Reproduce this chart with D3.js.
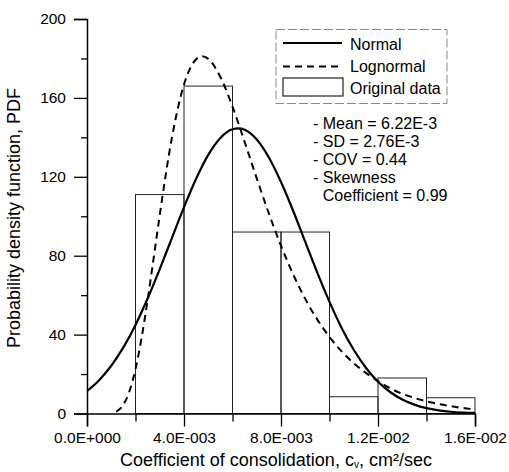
<!DOCTYPE html>
<html>
<head>
<meta charset="utf-8">
<script src="https://cdn.jsdelivr.net/npm/d3@7"></script>
<style>
  body { margin: 0; background: #fff; }
  svg text { font-family: Arial, "Liberation Sans", sans-serif; fill: #000; }
</style>
</head>
<body>
<div id="chart"></div>
<script>
// histogram of the original data (bin edges in cm2/sec, pdf heights)
var binEdges = [0.002, 0.004, 0.006, 0.008, 0.010, 0.012, 0.014, 0.016];
var binPdf = [111, 166, 92, 92, 8.5, 18, 8];

// fitted curves (x in 1E-3 cm2/sec)
var normalX = [0, 0.5, 1, 1.5, 2, 2.5, 3, 3.5, 4, 4.5, 5, 5.5, 6, 6.25, 6.5, 7, 7.5, 8,
  8.5, 9, 9.5, 10, 10.5, 11, 11.5, 12, 12.5, 13, 13.5, 14, 14.5, 15, 15.5, 16];
var normalY = [11.4, 16.9, 24.2, 33.5, 44.9, 58.3, 73.2, 88.9, 104.6, 119.0, 131.1,
  139.7, 144.1, 144.5, 143.8, 138.9, 129.8, 117.4, 102.8, 87.0, 71.3, 56.6, 43.4, 32.3,
  23.2, 16.1, 10.9, 7.1, 4.5, 2.7, 1.6, 0.9, 0.5, 0.3];
var lognormalX = [1.2, 1.5, 1.75, 2, 2.25, 2.5, 2.75, 3, 3.5, 4, 4.5, 4.75, 5, 5.5, 6, 6.5,
  7, 7.5, 8, 8.5, 9, 9.5, 10, 10.5, 11, 11.5, 12, 12.5, 13, 13.5, 14, 14.5, 15, 15.5, 16];
var lognormalY = [0.9, 4.5, 11.3, 22.6, 38.3, 57.6, 78.9, 100.6, 139.7, 166.8, 179.6, 181.1,
  179.8, 170.6, 155.6, 137.7, 119.2, 101.4, 85.0, 70.6, 58.1, 47.6, 38.8, 31.5, 25.5,
  20.6, 16.4, 12.8, 10.0, 7.9, 6.2, 4.8, 3.7, 2.8, 2.1];

var xTicks = [0, 0.004, 0.008, 0.012, 0.016];
var xTickLabels = ["0.0E+000", "4.0E-003", "8.0E-003", "1.2E-002", "1.6E-002"];
var xMinor = [0.002, 0.006, 0.010, 0.014];
var yTicks = [0, 40, 80, 120, 160, 200];
var yMinor = [20, 60, 100, 140, 180];

var legendItems = ["Normal", "Lognormal", "Original data"];
var statLines = ["- Mean = 6.22E-3", "- SD = 2.76E-3", "- COV = 0.44", "- Skewness", "Coefficient = 0.99"];

var width = 509, height = 472;

var svg = d3.select('#chart')
  .append('svg')
  .attr('width', width)
  .attr('height', height);

var x = d3.scaleLinear().domain([0, 0.016]).range([87, 475]);
var y = d3.scaleLinear().domain([0, 200]).range([413.5, 19]);

// bars
var bins = binPdf.map(function(v, i) {
  return { x0: binEdges[i], x1: binEdges[i + 1], v: v };
});
svg.append('g')
  .selectAll('rect')
  .data(bins)
  .enter()
  .append('rect')
  .attr('x', function(d) { return x(d.x0); })
  .attr('y', function(d) { return y(d.v); })
  .attr('width', function(d) { return x(d.x1) - x(d.x0); })
  .attr('height', function(d) { return y(0) - y(d.v); })
  .attr('fill', 'none')
  .attr('stroke', '#222')
  .attr('stroke-width', 1);

// curves
var line = d3.line()
  .x(function(d) { return x(d[0] / 1000); })
  .y(function(d) { return y(d[1]); })
  .curve(d3.curveMonotoneX);

svg.append('path')
  .datum(normalX.map(function(v, i) { return [v, normalY[i]]; }))
  .attr('d', line)
  .attr('fill', 'none')
  .attr('stroke', '#000')
  .attr('stroke-width', 2.2);

svg.append('path')
  .datum(lognormalX.map(function(v, i) { return [v, lognormalY[i]]; }))
  .attr('d', line)
  .attr('fill', 'none')
  .attr('stroke', '#000')
  .attr('stroke-width', 2)
  .attr('stroke-dasharray', '7,5');

// axes
svg.append('g')
  .attr('transform', 'translate(0,' + y(0) + ')')
  .call(d3.axisBottom(x).tickValues(xTicks).tickSize(13).tickPadding(5)
    .tickFormat(function(d, i) { return xTickLabels[i]; }));
svg.append('g')
  .attr('transform', 'translate(0,' + y(0) + ')')
  .call(d3.axisBottom(x).tickValues(xMinor).tickSize(8).tickFormat(''))
  .select('.domain').remove();

svg.append('g')
  .attr('transform', 'translate(' + x(0) + ',0)')
  .call(d3.axisLeft(y).tickValues(yTicks).tickSize(13).tickPadding(8));
svg.append('g')
  .attr('transform', 'translate(' + x(0) + ',0)')
  .call(d3.axisLeft(y).tickValues(yMinor).tickSize(6).tickFormat(''))
  .select('.domain').remove();

svg.selectAll('.tick line').attr('stroke', '#000').attr('stroke-width', 1.3);
svg.selectAll('.domain').attr('stroke', '#000').attr('stroke-width', 1.5);
svg.selectAll('.tick text')
  .style('font-family', 'Arial, "Liberation Sans", sans-serif')
  .style('font-size', '15.5px')
  .attr('fill', '#000');

// axis titles
var xt = svg.append('text')
  .attr('x', 276)
  .attr('y', 466)
  .attr('text-anchor', 'middle')
  .style('font-size', '18px');
xt.append('tspan').text('Coefficient of consolidation, c');
xt.append('tspan').attr('dy', 2).style('font-size', '10px').text('v');
xt.append('tspan').attr('dy', -2).text(', cm\u00b2/sec');

svg.append('text')
  .attr('transform', 'translate(20,218) rotate(-90)')
  .attr('text-anchor', 'middle')
  .style('font-size', '18px')
  .text('Probability density function, PDF');

// legend
var lg = svg.append('g');
lg.append('rect')
  .attr('x', 276).attr('y', 29.5)
  .attr('width', 171).attr('height', 74)
  .attr('fill', 'none')
  .attr('stroke', '#888')
  .attr('stroke-width', 1)
  .attr('stroke-dasharray', '9,3');
lg.append('line')
  .attr('x1', 283).attr('x2', 342).attr('y1', 43).attr('y2', 43)
  .attr('stroke', '#000').attr('stroke-width', 2.2);
lg.append('line')
  .attr('x1', 283).attr('x2', 342).attr('y1', 66.5).attr('y2', 66.5)
  .attr('stroke', '#000').attr('stroke-width', 2).attr('stroke-dasharray', '7,5');
lg.append('rect')
  .attr('x', 283).attr('y', 78)
  .attr('width', 60).attr('height', 18)
  .attr('fill', 'none').attr('stroke', '#222').attr('stroke-width', 1.2);
lg.selectAll('text.leg')
  .data(legendItems)
  .enter()
  .append('text')
  .attr('class', 'leg')
  .attr('x', 350)
  .attr('y', function(d, i) { return [50, 71.5, 93.5][i]; })
  .style('font-size', '16px')
  .text(function(d) { return d; });

// statistics
svg.selectAll('text.stat')
  .data(statLines)
  .enter()
  .append('text')
  .attr('class', 'stat')
  .attr('x', function(d, i) { return i == 4 ? 322.8 : 313; })
  .attr('y', function(d, i) { return 129.3 + i * 17.9; })
  .style('font-size', '16px')
  .text(function(d) { return d; });
</script>
</body>
</html>
